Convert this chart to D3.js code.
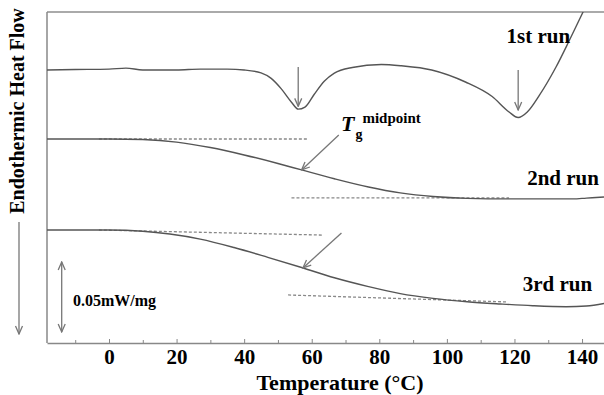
<!DOCTYPE html>
<html>
<head>
<meta charset="utf-8">
<script src="https://d3js.org/d3.v7.min.js"></script>
<style>
    body { margin: 0; background: #fff; }
    svg text { font-family: "Liberation Serif", "Times New Roman", serif; font-weight: bold; fill: #000; }
</style>
</head>
<body>
<svg id="svg"></svg>
<script>
    // heat flow in µW/mg (relative, curves stacked), temperature in °C
    let run1 = [[-18.4,195.0],[-10,195.3],[0,195.6],[5,196.3],[10,195.0],[20,195.0],[27,195.6],[35,195.6],
        [40,195.0],[45,192.9],[48,189.0],[51,181.5],[54,172.0],[56,167.0],[58,168.5],[60.7,177.5],
        [63.7,187.0],[66.7,192.8],[72,196.8],[80.6,198.9],[86.5,198.0],[95.5,195.0],[105.5,186.4],
        [113.4,176.0],[118.4,165.0],[121.1,161.0],[123.8,165.0],[127.4,177.0],[132.3,197.1],
        [136.3,216.4],[140.3,236.4],[144.3,255.7]];
    let run2 = [[-18.4,145.7],[0,145.7],[10,145.3],[20,143.5],[30,139.6],[40,134.3],[50,128.2],
        [57,123.6],[66.7,117.3],[76.8,111.4],[86.2,107.2],[95.9,104.6],[106,103.3],[118.4,102.9],
        [137.3,102.9],[141.3,103.5],[146.5,104.3]];
    let run3 = [[-18.4,80.7],[0,80.7],[10,79.8],[18,77.8],[27,74.2],[37,68.2],[47,61.2],[57,53.9],
        [66.7,46.6],[76.8,40.3],[86.2,35.3],[95.9,31.9],[106,29.5],[115.8,27.9],[125.4,26.6],
        [135.3,25.9],[141.3,26.4],[146.5,28.2]];

    // tangent (baseline) lines used for Tg construction
    let baselines = [
        [[-3,145.7],[59,145.7]],
        [[54,103.6],[118.4,103.6]],
        [[-3,80.7],[63,77.1]],
        [[53,34.3],[117.9,29.3]]
    ];

    // annotation arrows [from, to]
    let peakArrows = [
        [[56,197.1],[56,169.0]],
        [[121.1,195.0],[121.1,166.4]]
    ];
    let tgArrows = [
        [[68,148.6],[57,123.6]],
        [[68.8,78.6],[57.4,53.6]]
    ];
    let scaleBar = [[-14,57.9],[-14,7.9]];

    let runLabels = [
        {text: '1st run', t: 136.5, v: 214},
        {text: '2nd run', t: 145, v: 113},
        {text: '3rd run', t: 143, v: 37}
    ];

    let majorTicks = [0, 20, 40, 60, 80, 100, 120, 140];
    let minorTicks = [-10, 10, 30, 50, 70, 90, 110, 130];

    let visWidth = 604;
    let visHeight = 395;
    let plotLeft = 47, plotTop = 12, plotBottom = 343, plotRight = 604;

    let svg = d3.select('#svg')
        .attr('width', visWidth)
        .attr('height', visHeight);

    let xScale = d3.scaleLinear()
        .domain([-18.35, 146.5])
        .range([plotLeft, plotRight]);

    let yScale = d3.scaleLinear()
        .domain([0, 236.4])
        .range([plotBottom, plotTop]);

    let defs = svg.append('defs');
    defs.append('clipPath').attr('id', 'plotclip')
        .append('rect')
        .attr('x', plotLeft).attr('y', plotTop)
        .attr('width', plotRight - plotLeft).attr('height', plotBottom - plotTop);

    defs.append('marker')
        .attr('id', 'head')
        .attr('viewBox', '-10 -5 11 10')
        .attr('refX', 0).attr('refY', 0)
        .attr('markerWidth', 11).attr('markerHeight', 10)
        .attr('markerUnits', 'userSpaceOnUse')
        .attr('orient', 'auto-start-reverse')
        .append('path')
        .attr('d', 'M-8,-3.5 L0,0 L-8,3.5')
        .attr('fill', 'none')
        .attr('stroke', '#777')
        .attr('stroke-width', 1.3);

    // frame: top line + left axis
    svg.append('line')
        .attr('x1', plotLeft).attr('x2', plotRight)
        .attr('y1', plotTop).attr('y2', plotTop)
        .attr('stroke', '#aaa').attr('stroke-width', 2);
    svg.append('line')
        .attr('x1', plotLeft).attr('x2', plotLeft)
        .attr('y1', plotTop).attr('y2', plotBottom)
        .attr('stroke', '#888').attr('stroke-width', 1.5);

    let xAxis = d3.axisBottom(xScale)
        .tickValues(majorTicks)
        .tickSize(-4)
        .tickSizeOuter(0)
        .tickPadding(6);

    let xAxisGroup = svg.append('g')
        .attr('transform', `translate(0, ${plotBottom})`)
        .call(xAxis);
    xAxisGroup.select('.domain').attr('stroke', '#888').attr('stroke-width', 1.5);
    xAxisGroup.selectAll('.tick line').attr('stroke', '#888');
    xAxisGroup.selectAll('.tick text')
        .attr('font-size', 21)
        .attr('font-family', '"Liberation Serif", serif')
        .attr('fill', '#000');

    svg.append('g')
        .attr('transform', `translate(0, ${plotBottom})`)
        .call(d3.axisBottom(xScale).tickValues(minorTicks).tickSize(-3).tickFormat(''))
        .call(g => g.select('.domain').remove())
        .selectAll('.tick line').attr('stroke', '#888');

    let line = d3.line()
        .x(d => xScale(d[0]))
        .y(d => yScale(d[1]))
        .curve(d3.curveMonotoneX);

    let plot = svg.append('g').attr('clip-path', 'url(#plotclip)');

    plot.selectAll('.baseline')
        .data(baselines)
        .enter()
        .append('path')
        .attr('class', 'baseline')
        .attr('d', d3.line().x(d => xScale(d[0])).y(d => yScale(d[1])))
        .attr('fill', 'none')
        .attr('stroke', '#888')
        .attr('stroke-width', 1.3)
        .attr('stroke-dasharray', '3,2');

    plot.selectAll('.run')
        .data([run1, run2, run3])
        .enter()
        .append('path')
        .attr('class', 'run')
        .attr('d', line)
        .attr('fill', 'none')
        .attr('stroke', '#555')
        .attr('stroke-width', 1.4);

    svg.selectAll('.arrow')
        .data(peakArrows.concat(tgArrows))
        .enter()
        .append('line')
        .attr('class', 'arrow')
        .attr('x1', d => xScale(d[0][0])).attr('y1', d => yScale(d[0][1]))
        .attr('x2', d => xScale(d[1][0])).attr('y2', d => yScale(d[1][1]))
        .attr('stroke', '#777')
        .attr('stroke-width', 1.3)
        .attr('marker-end', 'url(#head)');

    // scale bar
    svg.append('line')
        .attr('x1', xScale(scaleBar[0][0])).attr('y1', yScale(scaleBar[0][1]))
        .attr('x2', xScale(scaleBar[1][0])).attr('y2', yScale(scaleBar[1][1]))
        .attr('stroke', '#777')
        .attr('stroke-width', 1.3)
        .attr('marker-start', 'url(#head)')
        .attr('marker-end', 'url(#head)');
    svg.append('text')
        .attr('x', 73).attr('y', 306)
        .attr('font-size', 16)
        .text('0.05mW/mg');

    svg.selectAll('.runlabel')
        .data(runLabels)
        .enter()
        .append('text')
        .attr('class', 'runlabel')
        .attr('x', d => xScale(d.t))
        .attr('y', d => yScale(d.v))
        .attr('text-anchor', 'end')
        .attr('font-size', 21)
        .text(d => d.text);

    // Tg midpoint label
    let tg = svg.append('text').attr('x', 341).attr('y', 131);
    tg.append('tspan').attr('font-size', 22).attr('font-style', 'italic').text('T');
    tg.append('tspan').attr('font-size', 14).attr('dy', 8).attr('dx', 1).text('g');
    tg.append('tspan').attr('font-size', 15).attr('dy', -16).attr('dx', 0).text('midpoint');

    // axis titles
    svg.append('text')
        .attr('x', 340).attr('y', 390)
        .attr('text-anchor', 'middle')
        .attr('font-size', 22)
        .text('Temperature (°C)');

    svg.append('text')
        .attr('transform', 'translate(24, 111) rotate(-90)')
        .attr('text-anchor', 'middle')
        .attr('font-size', 20)
        .text('Endothermic Heat Flow');

    svg.append('line')
        .attr('x1', 19).attr('x2', 19)
        .attr('y1', 222).attr('y2', 334)
        .attr('stroke', '#777')
        .attr('stroke-width', 1.3)
        .attr('marker-end', 'url(#head)');
</script>
</body>
</html>
